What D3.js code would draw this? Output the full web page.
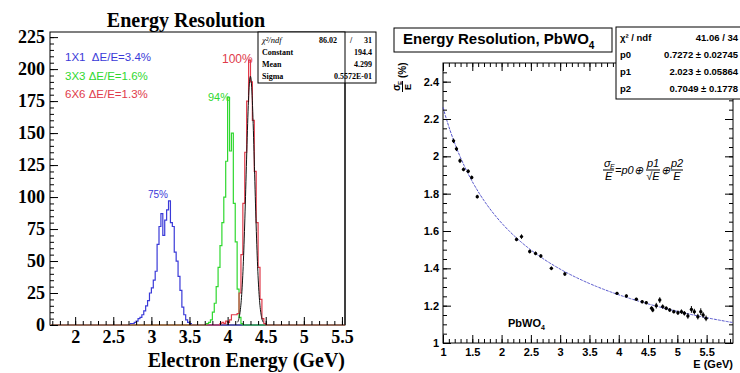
<!DOCTYPE html>
<html><head><meta charset="utf-8">
<script src="https://cdn.jsdelivr.net/npm/d3@7"></script>
<style>
html,body{margin:0;padding:0;background:#fff;}
svg{display:block;}
</style></head><body>
<svg id="chart" width="740" height="373"></svg>
<script>
// ---------- Energy resolution histograms (counts per 0.025 GeV bin) ----------
const binWidth = 0.025;
const blueStart = 2.700;
const blueCounts = [0,1,1,2,3,5,6,8,11,15,19,25,29,35,42,63,77,87,70,82,90,97,80,77,57,50,38,27,14,8,4,2,1,0];
const greenStart = 3.700;
const greenCounts = [0,1,2,4,10,17,30,45,62,80,100,128,178,136,150,95,65,28,6,1,0];
const redStart = 3.875;
const redCounts = [0,1,2,1,3,2,4,8,8,8,9,25,55,95,135,175,207,190,160,120,80,45,20,5,1,0];

// Gaussian fit of the 6x6 sum
const gausConst = 194.4, gausMean = 4.299, gausSigma = 0.05572;
const statNames = ["Constant", "Mean", "Sigma"];
const statValues = ["194.4", "4.299", "0.5572E-01"];
const chi2Left = ["86.02", "31"];

const legendTexts = ["1X1  ΔE/E=3.4%", "3X3 ΔE/E=1.6%", "6X6 ΔE/E=1.3%"];
const peakTexts = ["75%", "94%", "100%"];
const histXTicks = [2, 2.5, 3, 3.5, 4, 4.5, 5, 5.5];
const histYTicks = [0, 25, 50, 75, 100, 125, 150, 175, 200, 225];

// ---------- PbWO4 resolution vs energy ----------
const resE   = [1.18, 1.23, 1.29, 1.35, 1.43, 1.49, 1.585, 2.255, 2.34, 2.48, 2.58, 2.67, 2.85, 3.08,
                3.97, 4.13, 4.30, 4.40, 4.47, 4.56, 4.58, 4.64, 4.70, 4.75, 4.81, 4.87, 4.94, 5.01,
                5.07, 5.12, 5.18, 5.24, 5.29, 5.35, 5.40, 5.44, 5.49];
const resVal = [2.083, 2.04, 1.976, 1.93, 1.92, 1.887, 1.784, 1.555, 1.57, 1.49, 1.48, 1.466, 1.40, 1.37,
                1.266, 1.252, 1.234, 1.221, 1.216, 1.186, 1.177, 1.20, 1.23, 1.195, 1.186, 1.177, 1.168, 1.162,
                1.168, 1.159, 1.145, 1.18, 1.168, 1.141, 1.168, 1.15, 1.132];
const resErr = [0.012, 0.012, 0.012, 0.01, 0.01, 0.01, 0.01, 0.01, 0.012, 0.01, 0.01, 0.01, 0.01, 0.01,
                0.008, 0.008, 0.008, 0.008, 0.008, 0.01, 0.012, 0.015, 0.015, 0.012, 0.01, 0.01, 0.01, 0.012,
                0.012, 0.012, 0.015, 0.018, 0.015, 0.015, 0.018, 0.015, 0.015];
const fitNames = ["p0", "p1", "p2"];
const fitP = [0.7272, 2.023, 0.7049];
const fitErrText = ["0.7272 ± 0.02745", "2.023 ± 0.05864", "0.7049 ± 0.1778"];
const chi2Right = "41.06 / 34";
const resXTicks = [1, 1.5, 2, 2.5, 3, 3.5, 4, 4.5, 5, 5.5];
const resYTicks = [1, 1.2, 1.4, 1.6, 1.8, 2, 2.2, 2.4];

const svg = d3.select("#chart");
const SERIF = "'Liberation Serif','Times New Roman',serif";
const SANS = "'Liberation Sans',Arial,Helvetica,sans-serif";

// ================= Left panel =================
const xL = d3.scaleLinear().domain([1.67, 5.54]).range([50, 345]);
const yL = d3.scaleLinear().domain([0, 229]).range([325, 32]);
const left = svg.append("g");

svg.append("text").attr("x", 186).attr("y", 27).attr("text-anchor", "middle")
  .attr("font-family", SERIF).attr("font-weight", "bold").attr("font-size", 20)
  .text("Energy Resolution");

left.append("rect").attr("x", 50).attr("y", 32).attr("width", 295).attr("height", 293)
  .attr("fill", "#fff").attr("stroke", "#000").attr("stroke-width", 1);

function histPoints(start, counts) {
  const pts = [[xL.domain()[0], 0], [start, 0]];
  counts.forEach((c, i) => pts.push([start + i * binWidth, c]));
  pts.push([start + counts.length * binWidth, 0]);
  pts.push([xL.domain()[1], 0]);
  return pts;
}
const stepLine = d3.line().x(d => xL(d[0])).y(d => yL(d[1])).curve(d3.curveStepAfter);
const histColors = ["#3a3ad8", "#2fd82f", "#e03a4a"];
[[blueStart, blueCounts], [greenStart, greenCounts], [redStart, redCounts]].forEach((h, i) => {
  left.append("path").attr("d", stepLine(histPoints(h[0], h[1])))
    .attr("fill", "none").attr("stroke", histColors[i]).attr("stroke-width", 1.2);
});

// Gaussian fit curve
const gx = d3.range(gausMean - 3 * gausSigma, gausMean + 3 * gausSigma + 1e-9, gausSigma / 20);
left.append("path")
  .attr("d", d3.line().x(d => xL(d)).y(d => yL(gausConst * Math.exp(-0.5 * ((d - gausMean) / gausSigma) ** 2)))(gx))
  .attr("fill", "none").attr("stroke", "#111").attr("stroke-width", 1);

// axes (ticks inside the frame)
const axL = left.append("g").attr("transform", "translate(50,0)")
  .call(d3.axisLeft(yL).tickValues(histYTicks).tickSizeInner(-8).tickSizeOuter(0).tickPadding(5));
left.append("g").attr("transform", "translate(50,0)")
  .call(d3.axisLeft(yL).tickValues(d3.range(0, 229, 5)).tickSizeInner(-4).tickSizeOuter(0).tickFormat(""));
const axB = left.append("g").attr("transform", "translate(0,325)")
  .call(d3.axisBottom(xL).tickValues(histXTicks).tickSizeInner(-8).tickSizeOuter(0).tickPadding(5)
    .tickFormat(d3.format("")));
left.append("g").attr("transform", "translate(0,325)")
  .call(d3.axisBottom(xL).tickValues(d3.range(1.7, 5.54, 0.1)).tickSizeInner(-4).tickSizeOuter(0).tickFormat(""));
left.selectAll(".domain").remove();
left.selectAll(".tick line").attr("stroke", "#000");
[axL, axB].forEach(a => a.selectAll("text").attr("font-family", SERIF).attr("font-weight", "bold")
  .attr("font-size", 18).attr("fill", "#000"));

svg.append("text").attr("x", 345).attr("y", 367).attr("text-anchor", "end")
  .attr("font-family", SERIF).attr("font-weight", "bold").attr("font-size", 20)
  .text("Electron Energy (GeV)");

// legend
const legY = [61, 80, 98];
legendTexts.forEach((t, i) => {
  left.append("text").attr("x", 65).attr("y", legY[i]).attr("font-family", SANS)
    .attr("font-size", 11.5).attr("fill", histColors[i]).attr("xml:space", "preserve").text(t);
});
// peak percentage labels
const peakPos = [[148, 198, 10], [208, 101, 11], [222, 63, 12]];
peakTexts.forEach((t, i) => {
  left.append("text").attr("x", peakPos[i][0]).attr("y", peakPos[i][1]).attr("font-family", SANS)
    .attr("font-size", peakPos[i][2]).attr("fill", histColors[i]).text(t);
});

// statistics box
const sb = svg.append("g");
sb.append("rect").attr("x", 258).attr("y", 32).attr("width", 118).attr("height", 51)
  .attr("fill", "#fff").attr("stroke", "#000");
sb.append("text").attr("x", 262).attr("y", 43).attr("font-family", SERIF).attr("font-style", "italic")
  .attr("font-size", 8.5).text("χ²/ndf");
sb.append("text").attr("x", 337).attr("y", 43).attr("text-anchor", "end").attr("font-family", SERIF)
  .attr("font-weight", "bold").attr("font-size", 8).text(chi2Left[0]);
sb.append("text").attr("x", 350).attr("y", 43).attr("font-family", SERIF)
  .attr("font-weight", "bold").attr("font-size", 8).text("/");
sb.append("text").attr("x", 372).attr("y", 43).attr("text-anchor", "end").attr("font-family", SERIF)
  .attr("font-weight", "bold").attr("font-size", 8).text(chi2Left[1]);
statNames.forEach((n, i) => {
  const yy = 55 + i * 11.8;
  sb.append("text").attr("x", 262).attr("y", yy).attr("font-family", SERIF).attr("font-weight", "bold")
    .attr("font-size", 8).text(n);
  sb.append("text").attr("x", 372).attr("y", yy).attr("text-anchor", "end").attr("font-family", SERIF)
    .attr("font-weight", "bold").attr("font-size", 8).text(statValues[i]);
});
// right frame edge drawn over the box
svg.append("line").attr("x1", 345).attr("x2", 345).attr("y1", 32).attr("y2", 325).attr("stroke", "#000");

// ================= Right panel =================
const xR = d3.scaleLinear().domain([1, 5.95]).range([443, 733]);
const yR = d3.scaleLinear().domain([1, 2.5]).range([343, 63]);
const right = svg.append("g");

right.append("rect").attr("x", 443).attr("y", 63).attr("width", 290).attr("height", 280)
  .attr("fill", "#fff").attr("stroke", "#000");

// fit curve p0 (+) p1/sqrt(E) (+) p2/E
const fx = d3.range(1, 5.95, 0.02);
right.append("path")
  .attr("d", d3.line().x(d => xR(d)).y(d => yR(Math.sqrt(fitP[0] ** 2 + fitP[1] ** 2 / d + fitP[2] ** 2 / (d * d))))(fx))
  .attr("fill", "none").attr("stroke", "#5555cc").attr("stroke-width", 1).attr("stroke-dasharray", "3,1");

// data points with error bars
resE.forEach((e, i) => {
  right.append("line").attr("x1", xR(e)).attr("x2", xR(e))
    .attr("y1", yR(resVal[i] - resErr[i])).attr("y2", yR(resVal[i] + resErr[i]))
    .attr("stroke", "#000").attr("stroke-width", 1);
  right.append("circle").attr("cx", xR(e)).attr("cy", yR(resVal[i])).attr("r", 1.7).attr("fill", "#000");
});

// axes with ticks on all four sides
function ticks(g, axis, vals, size, tr) {
  return g.append("g").attr("transform", tr)
    .call(axis.tickValues(vals).tickSizeInner(size).tickSizeOuter(0));
}
const rl = ticks(right, d3.axisLeft(yR).tickPadding(4).tickFormat(d3.format("")), resYTicks, -8, "translate(443,0)");
ticks(right, d3.axisLeft(yR).tickFormat(""), d3.range(1, 2.5, 0.05), -4, "translate(443,0)");
ticks(right, d3.axisRight(yR).tickFormat(""), resYTicks, -8, "translate(733,0)");
ticks(right, d3.axisRight(yR).tickFormat(""), d3.range(1, 2.5, 0.05), -4, "translate(733,0)");
const rb = ticks(right, d3.axisBottom(xR).tickPadding(5).tickFormat(d3.format("")), resXTicks, -8, "translate(0,343)");
ticks(right, d3.axisBottom(xR).tickFormat(""), d3.range(1, 5.95, 0.1), -4, "translate(0,343)");
ticks(right, d3.axisTop(xR).tickFormat(""), resXTicks, -8, "translate(0,63)");
ticks(right, d3.axisTop(xR).tickFormat(""), d3.range(1, 5.95, 0.1), -4, "translate(0,63)");
right.selectAll(".domain").remove();
right.selectAll(".tick line").attr("stroke", "#000");
[rl, rb].forEach(a => a.selectAll("text").attr("font-family", SANS).attr("font-weight", "bold")
  .attr("font-size", 11).attr("fill", "#000"));

right.append("text").attr("x", 733).attr("y", 368).attr("text-anchor", "end")
  .attr("font-family", SANS).attr("font-weight", "bold").attr("font-size", 11).text("E (GeV)");

// y title: sigma_E / E (%)
const yt = right.append("g").attr("transform", "translate(402,92) rotate(-90)")
  .attr("font-family", SANS).attr("font-weight", "bold");
yt.append("text").attr("x", 1).attr("y", -2).attr("font-size", 10).text("σ");
yt.append("text").attr("x", 7).attr("y", 0).attr("font-size", 6).text("E");
yt.append("line").attr("x1", 0).attr("x2", 11).attr("y1", 0.5).attr("y2", 0.5).attr("stroke", "#000");
yt.append("text").attr("x", 2).attr("y", 9).attr("font-size", 9).text("E");
yt.append("text").attr("x", 14).attr("y", 4).attr("font-size", 10).text("(%)");

// formula
const fm = right.append("g").attr("font-family", SANS).attr("font-style", "italic").attr("font-size", 11);
function frac(x, num, den, w) {
  fm.append("text").attr("x", x + w / 2).attr("y", 167).attr("text-anchor", "middle").text(num);
  fm.append("line").attr("x1", x).attr("x2", x + w).attr("y1", 170).attr("y2", 170).attr("stroke", "#000");
  fm.append("text").attr("x", x + w / 2).attr("y", 180).attr("text-anchor", "middle").text(den);
}
fm.append("text").attr("x", 604).attr("y", 167).text("σ");
fm.append("text").attr("x", 610).attr("y", 169).attr("font-size", 7).text("E");
fm.append("line").attr("x1", 603).attr("x2", 614).attr("y1", 170).attr("y2", 170).attr("stroke", "#000");
fm.append("text").attr("x", 605).attr("y", 180).text("E");
fm.append("text").attr("x", 615).attr("y", 174).text("=p0⊕");
frac(646, "p1", "√E", 14);
fm.append("text").attr("x", 661).attr("y", 174).text("⊕");
frac(671, "p2", "E", 12);

// PbWO4 label
const pl = right.append("text").attr("x", 508).attr("y", 327).attr("font-family", SANS)
  .attr("font-weight", "bold").attr("font-size", 11);
pl.append("tspan").text("PbWO");
pl.append("tspan").attr("font-size", 7).attr("dy", 3).text("4");

// title box
const tb = svg.append("g");
tb.append("rect").attr("x", 394).attr("y", 28).attr("width", 218).attr("height", 24)
  .attr("fill", "#fff").attr("stroke", "#000");
const tt = tb.append("text").attr("x", 403).attr("y", 44).attr("font-family", SANS)
  .attr("font-weight", "bold").attr("font-size", 15);
tt.append("tspan").text("Energy Resolution, PbWO");
tt.append("tspan").attr("font-size", 10).attr("dy", 5).text("4");

// fit statistics box
const fb = svg.append("g").attr("font-family", SANS).attr("font-weight", "bold").attr("font-size", 9.5);
fb.append("rect").attr("x", 616).attr("y", 27).attr("width", 140).attr("height", 72)
  .attr("fill", "#fff").attr("stroke", "#000");
fb.append("text").attr("x", 620).attr("y", 41).text("χ² / ndf");
fb.append("text").attr("x", 738).attr("y", 41).attr("text-anchor", "end").text(chi2Right);
fitNames.forEach((n, i) => {
  const yy = 58 + i * 17;
  fb.append("text").attr("x", 620).attr("y", yy).text(n);
  fb.append("text").attr("x", 738).attr("y", yy).attr("text-anchor", "end").text(fitErrText[i]);
});
</script>
</body></html>
